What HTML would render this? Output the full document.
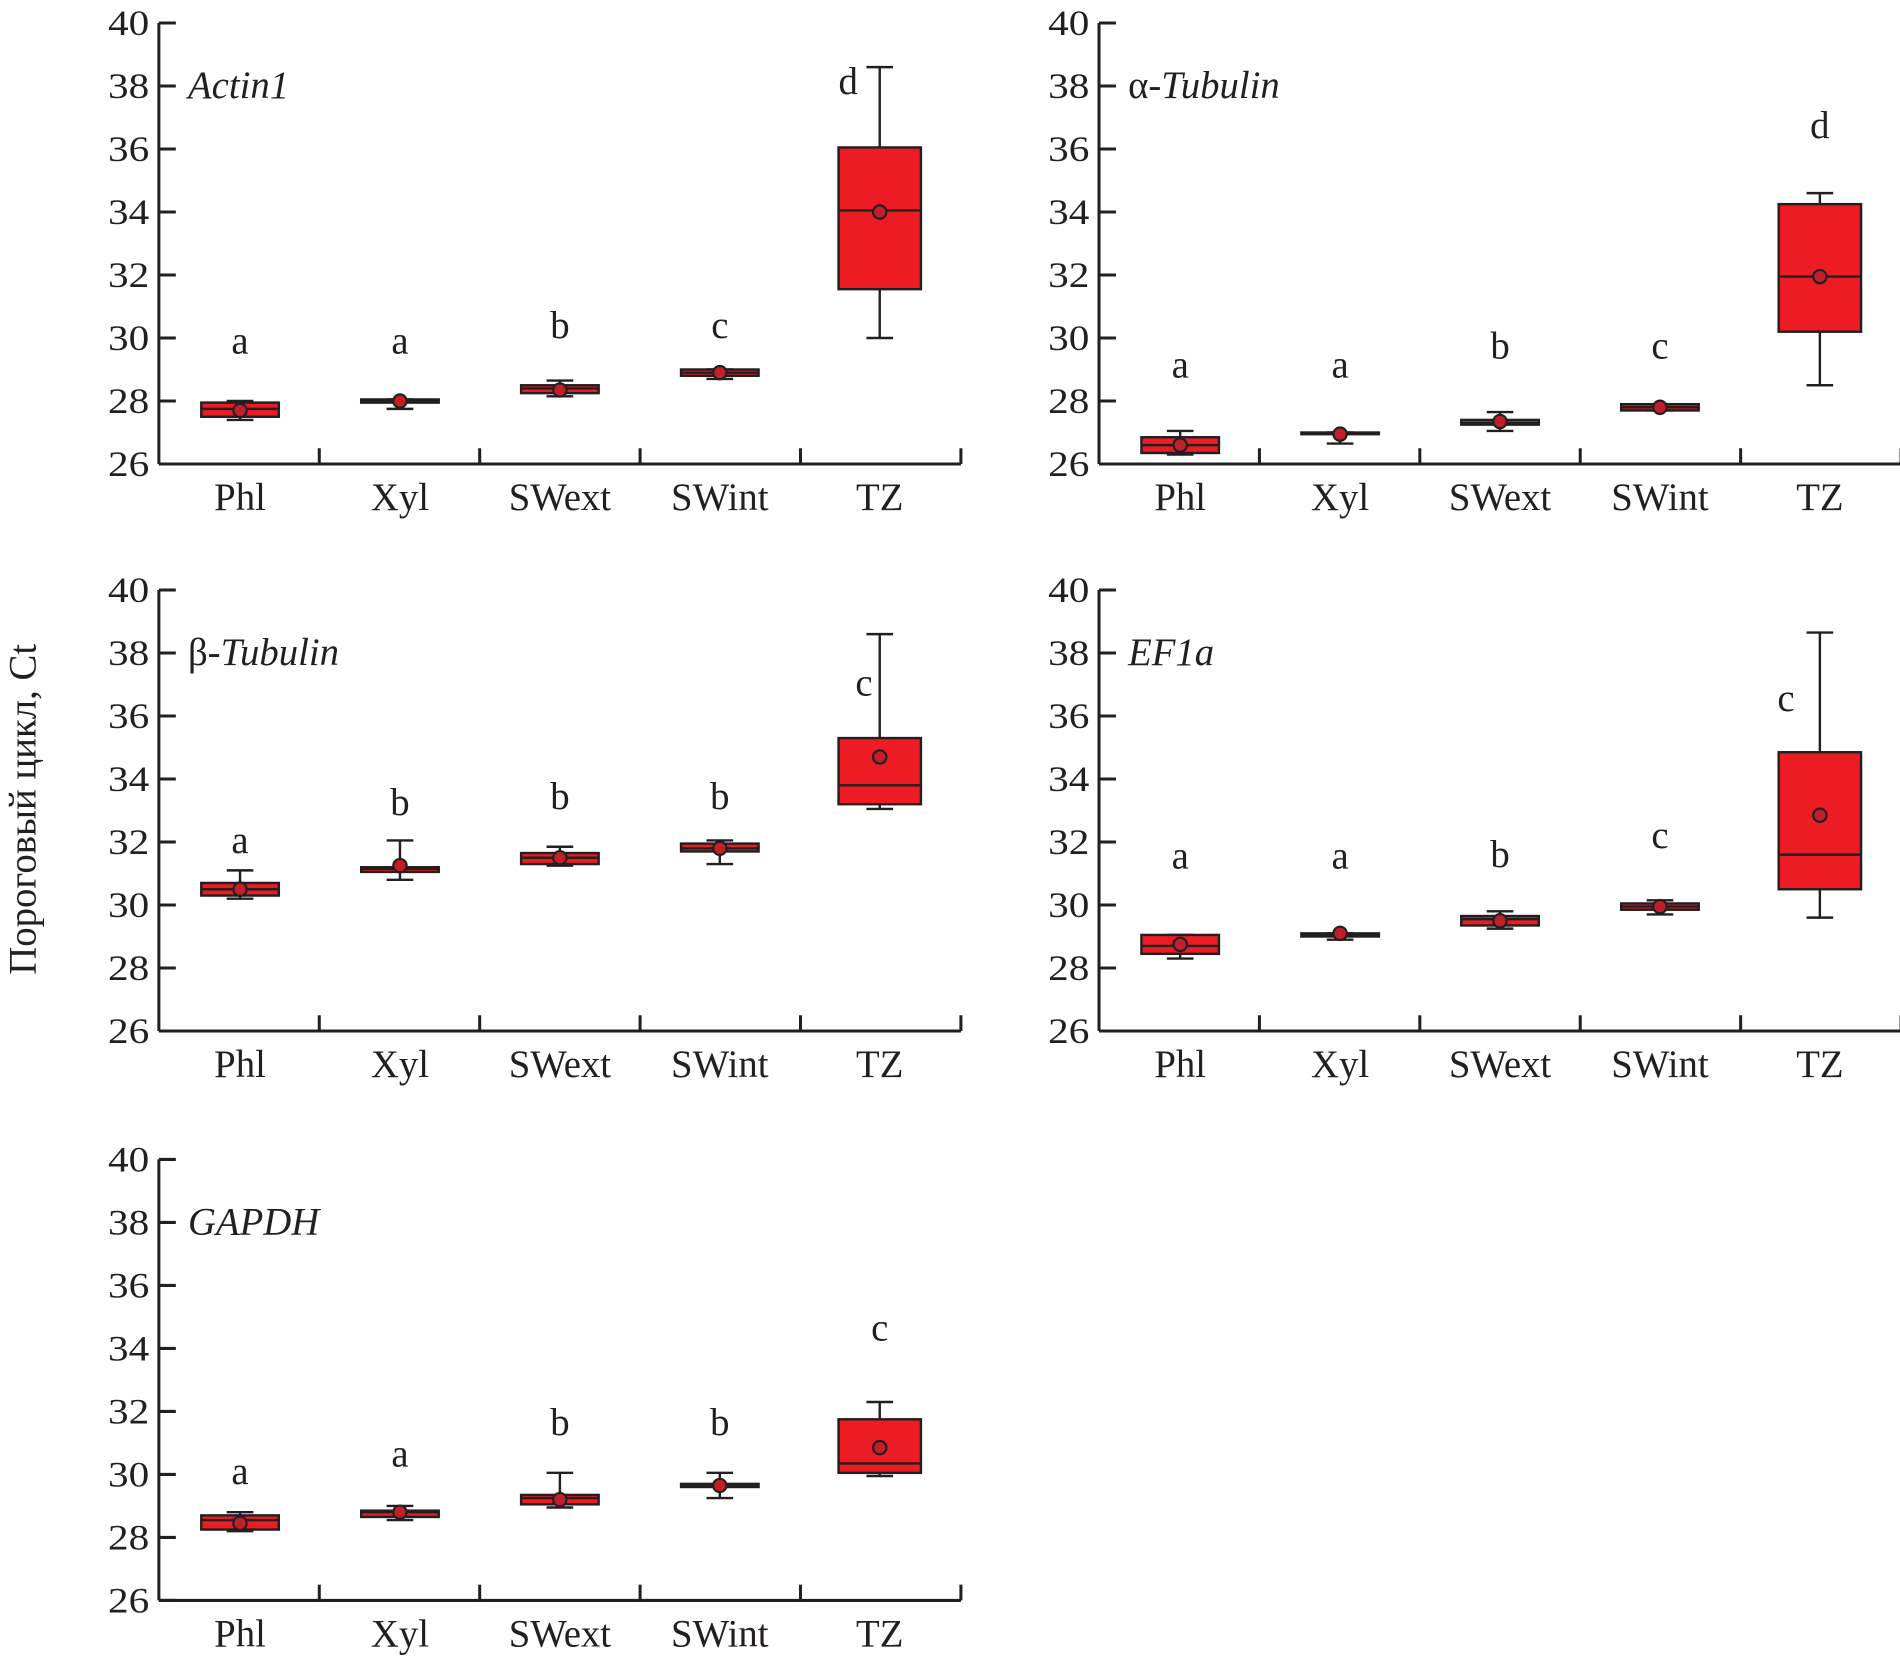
<!DOCTYPE html>
<html><head><meta charset="utf-8"><style>
html,body{margin:0;padding:0;background:#fff;}
svg{display:block;}
text{font-family:"Liberation Serif",serif;fill:#231f20;}
</style></head><body>
<svg id="chart" width="1900" height="1661" viewBox="0 0 1568 1371"></svg>
<script>
const categories = ["Phl","Xyl","SWext","SWint","TZ"];
const yTicks = [26,28,30,32,34,36,38,40];
const genes = ["Actin1","α-Tubulin","β-Tubulin","EF1a","GAPDH"];
// per group: [whiskerLow, q1, median, q3, whiskerHigh]
const actinBox = [[27.4,27.5,27.75,27.95,28.0],[27.75,27.95,28.0,28.05,28.05],[28.15,28.25,28.4,28.5,28.65],[28.7,28.8,28.9,29.0,29.0],[30.0,31.55,34.05,36.05,38.6]];
const actinMean = [27.7,28.0,28.35,28.9,34.0];
const actinLetters = ["a","a","b","c","d"];
const actinLetterY = [29.85,29.85,30.35,30.35,38.1];
const aTubBox = [[26.3,26.35,26.6,26.85,27.05],[26.65,26.95,26.95,27.0,27.0],[27.05,27.25,27.3,27.4,27.65],[27.7,27.7,27.8,27.9,27.9],[28.5,30.2,31.95,34.25,34.6]];
const aTubMean = [26.6,26.95,27.35,27.8,31.95];
const aTubLetters = ["a","a","b","c","d"];
const aTubLetterY = [29.1,29.1,29.7,29.7,36.7];
const bTubBox = [[30.2,30.3,30.5,30.7,31.1],[30.8,31.05,31.15,31.2,32.05],[31.25,31.3,31.5,31.65,31.85],[31.3,31.7,31.8,31.95,32.05],[33.05,33.2,33.8,35.3,38.6]];
const bTubMean = [30.5,31.25,31.5,31.8,34.7];
const bTubLetters = ["a","b","b","b","c"];
const bTubLetterY = [32.0,33.2,33.4,33.4,37.0];
const efBox = [[28.3,28.45,28.7,29.05,29.05],[28.9,29.0,29.05,29.1,29.1],[29.25,29.35,29.55,29.65,29.8],[29.7,29.85,29.95,30.05,30.15],[29.6,30.5,31.6,34.85,38.65]];
const efMean = [28.75,29.1,29.5,29.95,32.85];
const efLetters = ["a","a","b","c","c"];
const efLetterY = [31.5,31.5,31.55,32.15,36.5];
const gapdhBox = [[28.2,28.25,28.55,28.7,28.8],[28.55,28.65,28.8,28.85,29.0],[28.95,29.05,29.25,29.35,30.05],[29.25,29.6,29.65,29.7,30.05],[29.95,30.05,30.35,31.75,32.3]];
const gapdhMean = [28.45,28.8,29.2,29.65,30.85];
const gapdhLetters = ["a","a","b","b","c"];
const gapdhLetterY = [30.05,30.6,31.6,31.6,34.6];
const tzLetterShift = [-26,0,-13,-28,0];

const NS="http://www.w3.org/2000/svg";
const svg=document.getElementById('chart');
function el(tag,attrs,parent){const e=document.createElementNS(NS,tag);for(const k in attrs)e.setAttribute(k,attrs[k]);(parent||svg).appendChild(e);return e;}

const panels=[
 {x0:131,yTop:19,box:actinBox,mean:actinMean,let:actinLetters,ly:actinLetterY,title:[["Actin1",true]]},
 {x0:907,yTop:19,box:aTubBox,mean:aTubMean,let:aTubLetters,ly:aTubLetterY,title:[["α-",false],["Tubulin",true]]},
 {x0:131,yTop:487,box:bTubBox,mean:bTubMean,let:bTubLetters,ly:bTubLetterY,title:[["β-",false],["Tubulin",true]]},
 {x0:907,yTop:487,box:efBox,mean:efMean,let:efLetters,ly:efLetterY,title:[["EF1a",true]]},
 {x0:131,yTop:957,box:gapdhBox,mean:gapdhMean,let:gapdhLetters,ly:gapdhLetterY,title:[["GAPDH",true]]}
];
const ink="#231f20";
panels.forEach((p,pi)=>{
 const g=el('g',{});
 
 
 const yB=p.yTop+364;
 const y=v=>yB-(v-26)*26;
 const x=i=>p.x0+67+i*132;
 const w=662;
 el('line',{x1:p.x0,y1:p.yTop,x2:p.x0,y2:yB,stroke:ink,'stroke-width':2.5},g);
 el('line',{x1:p.x0,y1:yB,x2:p.x0+w,y2:yB,stroke:ink,'stroke-width':2.5},g);
 yTicks.forEach(t=>{
  el('line',{x1:p.x0,y1:y(t),x2:p.x0+14,y2:y(t),stroke:ink,'stroke-width':2.5},g);
  const tx=el('text',{x:p.x0-8,y:y(t)+10,'text-anchor':'end','font-size':30,'textLength':34,'lengthAdjust':'spacingAndGlyphs'},g);
  tx.textContent=t;
  
  
 });
 for(let i=1;i<=5;i++){el('line',{x1:p.x0+i*132.4,y1:yB,x2:p.x0+i*132.4,y2:yB-13,stroke:ink,'stroke-width':2.5},g);}
 categories.forEach((c,i)=>{
  const tx=el('text',{x:x(i),y:yB+38,'text-anchor':'middle','font-size':32},g);
  tx.textContent=c;
  
  
 });
 const tt=el('text',{x:p.x0+24,y:p.yTop+62,'font-size':32},g);
 
 
 p.title.forEach(([s,it])=>{const ts=el('tspan',{'font-style':it?'italic':'normal'},tt);ts.textContent=s;});
 p.box.forEach((b,i)=>{
  const bw=(i==4)?68:64;
  const cx=x(i);
  const bg=el('g',{},g);
  
  
  el('line',{x1:cx,y1:y(b[0]),x2:cx,y2:y(b[4]),stroke:ink,'stroke-width':2},bg);
  el('line',{x1:cx-11,y1:y(b[0]),x2:cx+11,y2:y(b[0]),stroke:ink,'stroke-width':2},bg);
  el('line',{x1:cx-11,y1:y(b[4]),x2:cx+11,y2:y(b[4]),stroke:ink,'stroke-width':2},bg);
  el('rect',{x:cx-bw/2,y:y(b[3]),width:bw,height:Math.max(y(b[1])-y(b[3]),1),fill:"#ed1c24",stroke:ink,'stroke-width':2},bg);
  el('line',{x1:cx-bw/2,y1:y(b[2]),x2:cx+bw/2,y2:y(b[2]),stroke:ink,'stroke-width':2},bg);
  const m=el('circle',{cx:cx,cy:y(p.mean[i]),r:5.5,fill:"#c1202b",stroke:ink,'stroke-width':1.8},bg);
  
  
  const lx=cx+(i==4?tzLetterShift[pi]:0);
  const lt=el('text',{x:lx,y:y(p.ly[i])+9,'text-anchor':'middle','font-size':32},g);
  lt.textContent=p.let[i];
  
  
 });
});
const yt=el('text',{x:0,y:0,'text-anchor':'middle','font-size':32,transform:'translate(29,668) rotate(-90)'});
yt.textContent="Пороговый цикл, Ct";


</script>
</body></html>
